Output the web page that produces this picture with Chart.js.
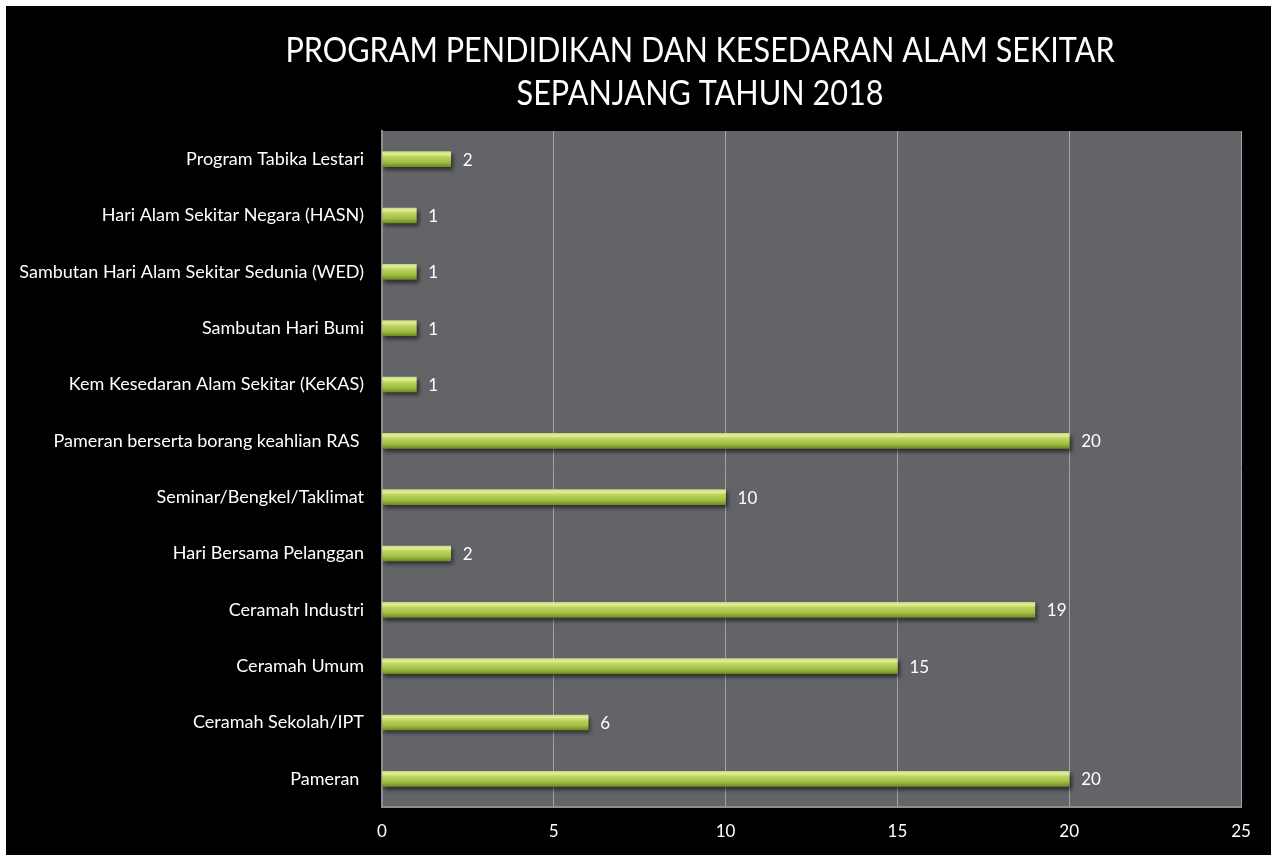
<!DOCTYPE html>
<html>
<head>
<meta charset="utf-8">
<script src="https://cdn.jsdelivr.net/npm/chart.js@4.4.0/dist/chart.umd.min.js"></script>
<style>
  html, body { margin: 0; padding: 0; background: #fff; }
  #wrap { position: absolute; left: 6px; top: 6px; width: 1265px; height: 849px; background: #000; }
</style>
</head>
<body>
<div id="wrap"><canvas id="myChart"></canvas></div>
<script>
'use strict';

const titleLines = [
  'PROGRAM PENDIDIKAN DAN KESEDARAN ALAM SEKITAR',
  'SEPANJANG TAHUN 2018'
];
const programNames = [
  'Program Tabika Lestari',
  'Hari Alam Sekitar Negara (HASN)',
  'Sambutan Hari Alam Sekitar Sedunia (WED)',
  'Sambutan Hari Bumi',
  'Kem Kesedaran Alam Sekitar (KeKAS)',
  'Pameran berserta borang keahlian RAS ',
  'Seminar/Bengkel/Taklimat',
  'Hari Bersama Pelanggan',
  'Ceramah Industri',
  'Ceramah Umum',
  'Ceramah Sekolah/IPT',
  'Pameran '
];
const programCounts = [2, 1, 1, 1, 1, 20, 10, 2, 19, 15, 6, 20];
const axisMax = 25;
const axisStep = 5;

const fontName = 'Lato, "Open Sans", sans-serif';

// grey plot area + shadow under the bars + value labels + title
const decorPlugin = {
  id: 'decor',
  beforeDraw(chart) {
    const a = chart.chartArea;
    const ctx = chart.ctx;
    ctx.save();
    ctx.fillStyle = '#636468';
    ctx.fillRect(a.left, a.top, a.right - a.left, a.bottom - a.top);
    ctx.restore();
  },
  beforeDatasetsDraw(chart) {
    const ctx = chart.ctx;
    ctx.save();
    ctx.shadowColor = 'rgba(0,0,0,0.55)';
    ctx.shadowOffsetX = 2;
    ctx.shadowOffsetY = 3;
    ctx.shadowBlur = 4;
  },
  afterDatasetsDraw(chart) {
    const ctx = chart.ctx;
    ctx.restore();
    const meta = chart.getDatasetMeta(0);
    ctx.save();
    ctx.fillStyle = '#ffffff';
    ctx.font = '17px ' + fontName;
    ctx.textAlign = 'left';
    ctx.textBaseline = 'middle';
    meta.data.forEach(function (bar, i) {
      ctx.fillText(String(programCounts[i]), bar.x + 12, bar.y + 1);
    });
    ctx.restore();
  },
  afterDraw(chart) {
    const ctx = chart.ctx;
    ctx.save();
    ctx.fillStyle = '#ffffff';
    ctx.font = '34px ' + fontName;
    ctx.textAlign = 'center';
    ctx.textBaseline = 'middle';
    // narrower, like the original's condensed face
    ctx.translate(694, 0);
    ctx.scale(0.9, 1);
    ctx.fillText(titleLines[0], 0, 45);
    ctx.fillText(titleLines[1], 0, 88);
    ctx.restore();
  }
};

function barFill(context) {
  const chart = context.chart;
  const y = chart.scales.y;
  if (!chart.chartArea || !y) {
    return '#a9c54a';
  }
  const cy = y.getPixelForValue(context.dataIndex);
  const g = chart.ctx.createLinearGradient(0, cy - 7.5, 0, cy + 7.5);
  g.addColorStop(0, '#c9dc74');
  g.addColorStop(0.15, '#e2eea0');
  g.addColorStop(0.35, '#bcd45c');
  g.addColorStop(0.7, '#a2be44');
  g.addColorStop(1, '#6f8c26');
  return g;
}

const ctx = document.getElementById('myChart').getContext('2d');
new Chart(ctx, {
  type: 'bar',
  data: {
    labels: programNames,
    datasets: [
      {
        label: 'Bilangan',
        data: programCounts,
        backgroundColor: barFill,
        borderWidth: 0,
        barThickness: 15
      }
    ]
  },
  options: {
    indexAxis: 'y',
    responsive: true,
    maintainAspectRatio: false,
    animation: false,
    layout: {
      padding: { top: 125, right: 30, left: 0, bottom: 0 }
    },
    plugins: {
      legend: { display: false },
      title: { display: false },
      tooltip: { enabled: false }
    },
    scales: {
      x: {
        min: 0,
        max: axisMax,
        ticks: {
          stepSize: axisStep,
          color: '#ffffff',
          font: { family: fontName, size: 17 },
          padding: 14
        },
        grid: {
          color: '#a4a4a6',
          lineWidth: 1,
          drawTicks: false
        },
        border: { display: true, color: '#8e8e90', width: 2 },
        afterFit(scale) { scale.height = 48; }
      },
      y: {
        ticks: {
          color: '#ffffff',
          font: { family: fontName, size: 18 },
          padding: 18,
          autoSkip: false
        },
        grid: { display: false, drawTicks: false },
        border: { display: true, color: '#8e8e90', width: 2 },
        afterFit(scale) { scale.width = 376; }
      }
    }
  },
  plugins: [decorPlugin]
});
</script>
</body>
</html>
